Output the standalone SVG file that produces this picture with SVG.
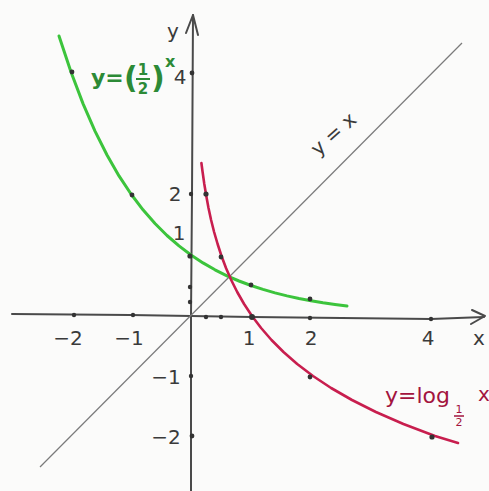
<svg xmlns="http://www.w3.org/2000/svg" width="489" height="491" viewBox="0 0 489 491">
<style>
.ax{fill:none;stroke:#4a4a4a;stroke-width:2;stroke-linecap:round;stroke-linejoin:round}
.diag{fill:none;stroke:#7a7a7a;stroke-width:1.2}
.grn{fill:none;stroke:#3cc43c;stroke-width:3;stroke-linecap:round;stroke-linejoin:round}
.red{fill:none;stroke:#c81e4e;stroke-width:2.6;stroke-linecap:round;stroke-linejoin:round}
.dot{fill:#333}
.lbl{font-family:"DejaVu Sans","Liberation Sans",sans-serif;font-size:20px;fill:#3a3a3a;text-anchor:middle}
.gt{font-family:"DejaVu Sans","Liberation Sans",sans-serif;fill:#2c8a36;font-weight:bold}
.rt{font-family:"DejaVu Sans","Liberation Sans",sans-serif;fill:#a3143e}
</style>
<rect width="489" height="491" fill="#fbfbfa"/>
<g id="connectors">
  <g id="axes">
    <path class="ax" d="M12,314 L130,315 L252,317 L431,319 L484,317"/>
    <path class="ax" d="M472,310 L485,316 L471,324"/>
    <path class="ax" d="M191,491 L191,316 L192,194 L193,15"/>
    <path class="ax" d="M186,33 L193,15 L198,35"/>
  </g>
  <path id="line-yx" class="diag" d="M40,467 L462,43"/>
  <path id="curve-exp" class="grn" d="M59,36 L71,72 L83,103.6 L95,131.1 L107,155 L119,175.9 L131,194 L143,209.8 L155,223.5 L167,235.5 L179,245.9 L191,255 L203,262.9 L215,269.8 L227,275.8 L239,281 L251,285.5 L263,289.4 L275,292.9 L287,295.9 L299,298.5 L311,300.7 L323,302.7 L335,304.4 L347,306"/>
  <path id="curve-log" class="red" d="M201.4,163 L202.6,172 L204.3,184 L206.3,196 L208.5,208 L211.1,220 L214.1,232 L217.6,244 L221.5,256 L226,268 L231.2,280 L237.2,292 L244.1,304 L252,316 L261.1,328 L271.5,340 L283.5,352 L297.2,364 L313,376 L331.1,388 L352,400 L375.9,412 L403.4,424 L435,436 L458,443"/>
</g>
<g id="dots">
  <circle class="dot" cx="74" cy="315" r="2.2"/>
  <circle class="dot" cx="133" cy="315" r="2.2"/>
  <circle class="dot" cx="206" cy="317" r="2.2"/>
  <circle class="dot" cx="221" cy="317" r="2.2"/>
  <circle class="dot" cx="252" cy="317" r="3"/>
  <circle class="dot" cx="310" cy="318" r="2.2"/>
  <circle class="dot" cx="431" cy="319" r="2.2"/>
  <circle class="dot" cx="192" cy="73" r="2.4"/>
  <circle class="dot" cx="191" cy="194" r="2.2"/>
  <circle class="dot" cx="190" cy="256" r="2.6"/>
  <circle class="dot" cx="190" cy="287" r="2.2"/>
  <circle class="dot" cx="190" cy="302" r="2.2"/>
  <circle class="dot" cx="191" cy="376" r="2.2"/>
  <circle class="dot" cx="192" cy="436" r="2.4"/>
  <circle class="dot" cx="72" cy="72" r="2.4"/>
  <circle class="dot" cx="132" cy="195" r="2.4"/>
  <circle class="dot" cx="251" cy="285" r="2.4"/>
  <circle class="dot" cx="310" cy="299" r="2.4"/>
  <circle class="dot" cx="206" cy="194" r="2.6"/>
  <circle class="dot" cx="221" cy="257" r="2.4"/>
  <circle class="dot" cx="310" cy="377" r="2.4"/>
  <circle class="dot" cx="432" cy="437" r="2.6"/>
</g>
<g id="axis-labels">
  <text class="lbl" x="68" y="345">−2</text>
  <text class="lbl" x="129" y="345">−1</text>
  <text class="lbl" x="249" y="345">1</text>
  <text class="lbl" x="311" y="345">2</text>
  <text class="lbl" x="428" y="345">4</text>
  <text class="lbl" x="479" y="345">x</text>
  <text class="lbl" x="173" y="38">y</text>
  <text class="lbl" x="180" y="84">4</text>
  <text class="lbl" x="175" y="201">2</text>
  <text class="lbl" x="179" y="240">1</text>
  <text class="lbl" x="166" y="384">−1</text>
  <text class="lbl" x="166" y="444">−2</text>
</g>
<g id="label-yx">
  <text class="lbl" font-size="22" transform="translate(338,139) rotate(-42)">y = x</text>
</g>
<g id="label-exp">
  <text class="gt" x="91" y="85" font-size="22">y=</text>
  <text class="gt" x="124" y="88" font-size="30">(</text>
  <text class="gt" x="143" y="75" font-size="15" text-anchor="middle">1</text>
  <line x1="136" y1="79" x2="150" y2="79" stroke="#2c8a36" stroke-width="2"/>
  <text class="gt" x="143" y="94" font-size="15" text-anchor="middle">2</text>
  <text class="gt" x="151" y="88" font-size="30">)</text>
  <text class="gt" x="165" y="67" font-size="16">x</text>
</g>
<g id="label-log">
  <text class="rt" x="385" y="403" font-size="22">y=log</text>
  <text class="rt" x="459" y="413" font-size="11" text-anchor="middle">1</text>
  <line x1="454" y1="416" x2="464" y2="416" stroke="#a3143e" stroke-width="1.5"/>
  <text class="rt" x="459" y="426" font-size="11" text-anchor="middle">2</text>
  <text class="rt" x="478" y="401" font-size="20">x</text>
</g>
</svg>
